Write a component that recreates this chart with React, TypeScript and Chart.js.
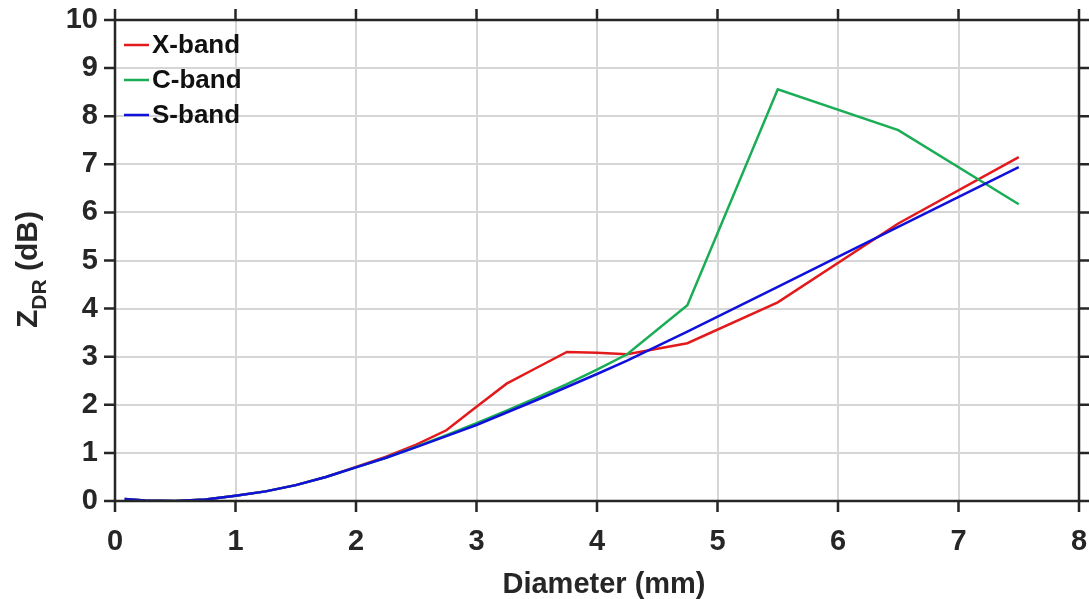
import React, { useEffect, useRef } from "react";
import { Chart, registerables } from "chart.js";

Chart.register(...registerables);

// Drop diameters (mm)
const diameters = [
  0.08, 0.25, 0.5, 0.75, 1.0, 1.25, 1.5, 1.75, 2.0, 2.25, 2.5, 2.75, 3.0,
  3.25, 3.5, 3.75, 4.0, 4.25, 4.75, 5.5, 6.5, 7.5,
];

// ZDR (dB) per radar band
const xBand = [
  0.04, 0.01, 0.0, 0.03, 0.11, 0.2, 0.33, 0.5, 0.71, 0.92, 1.17, 1.47, 1.96,
  2.44, 2.77, 3.1, 3.08, 3.05, 3.28, 4.13, 5.77, 7.15,
];
const cBand = [
  0.04, 0.01, 0.0, 0.03, 0.11, 0.2, 0.33, 0.5, 0.7, 0.9, 1.13, 1.37, 1.62,
  1.88, 2.15, 2.43, 2.73, 3.05, 4.07, 8.56, 7.71, 6.17,
];
const sBand = [
  0.04, 0.01, 0.0, 0.03, 0.11, 0.2, 0.33, 0.5, 0.7, 0.9, 1.12, 1.35, 1.58,
  1.84, 2.1, 2.37, 2.64, 2.92, 3.52, 4.45, 5.7, 6.94,
];

const seriesLabels = ["X-band", "C-band", "S-band"];
const seriesColors = ["#e31a1c", "#19ad55", "#1010dc"];

const xTicks = [0, 1, 2, 3, 4, 5, 6, 7, 8];
const yTicks = [0, 1, 2, 3, 4, 5, 6, 7, 8, 9, 10];

const FONT = "'Liberation Sans', Arial, Helvetica, sans-serif";
const INK = "#262626";

const toPoints = (ys: number[]) => diameters.map((d, i) => ({ x: d, y: ys[i] }));

const clearPadding = (s: any) => {
  s.paddingTop = 0;
  s.paddingBottom = 0;
  s.paddingLeft = 0;
  s.paddingRight = 0;
};

// Box frame with outward ticks on all four sides, axis titles and an inset legend
const decorPlugin = {
  id: "decor",
  afterDraw(chart: any) {
    const { ctx, chartArea: a, scales } = chart;
    const xs = scales.x;
    const ys = scales.y;
    const tick = 11;
    ctx.save();
    ctx.strokeStyle = INK;
    ctx.lineWidth = 2.5;
    ctx.lineCap = "butt";
    ctx.strokeRect(a.left, a.top, a.right - a.left, a.bottom - a.top);
    ctx.beginPath();
    xTicks.forEach((v) => {
      const px = xs.getPixelForValue(v);
      ctx.moveTo(px, a.bottom);
      ctx.lineTo(px, a.bottom + tick);
      ctx.moveTo(px, a.top);
      ctx.lineTo(px, a.top - tick);
    });
    yTicks.forEach((v) => {
      const py = ys.getPixelForValue(v);
      ctx.moveTo(a.left, py);
      ctx.lineTo(a.left - tick, py);
      ctx.moveTo(a.right, py);
      ctx.lineTo(a.right + tick, py);
    });
    ctx.stroke();

    // x-axis title
    ctx.fillStyle = INK;
    ctx.font = `bold 29px ${FONT}`;
    ctx.textAlign = "center";
    ctx.textBaseline = "alphabetic";
    ctx.fillText("Diameter (mm)", (a.left + a.right) / 2 + 7, 593);

    // y-axis title: Z with DR subscript, rotated
    ctx.save();
    ctx.translate(37, (a.top + a.bottom) / 2 + 9);
    ctx.rotate(-Math.PI / 2);
    ctx.textAlign = "left";
    const big = `bold 30px ${FONT}`;
    const small = `bold 21px ${FONT}`;
    ctx.font = big;
    const wZ = ctx.measureText("Z").width;
    const wRest = ctx.measureText(" (dB)").width;
    ctx.font = small;
    const wSub = ctx.measureText("DR").width;
    let x0 = -(wZ + wSub + wRest) / 2;
    ctx.font = big;
    ctx.fillText("Z", x0, 0);
    x0 += wZ;
    ctx.font = small;
    ctx.fillText("DR", x0, 9);
    x0 += wSub;
    ctx.font = big;
    ctx.fillText(" (dB)", x0, 0);
    ctx.restore();

    // legend
    ctx.font = `bold 26px ${FONT}`;
    ctx.textAlign = "left";
    ctx.textBaseline = "middle";
    chart.data.datasets.forEach((ds: any, i: number) => {
      const y = a.top + 25 + i * 35;
      ctx.strokeStyle = ds.borderColor;
      ctx.lineWidth = 2.5;
      ctx.beginPath();
      ctx.moveTo(a.left + 9, y);
      ctx.lineTo(a.left + 34, y);
      ctx.stroke();
      ctx.fillStyle = "#111";
      ctx.fillText(ds.label, a.left + 37, y + 1);
    });
    ctx.restore();
  },
};

export default function App() {
  const ref = useRef<HTMLCanvasElement | null>(null);

  useEffect(() => {
    document.body.style.margin = "0";
    const canvas = ref.current;
    if (!canvas) return;
    const bandValues = [xBand, cBand, sBand];
    const chart = new Chart(canvas, {
      type: "line",
      data: {
        datasets: bandValues.map((vals, i) => ({
          label: seriesLabels[i],
          data: toPoints(vals),
          borderColor: seriesColors[i],
          backgroundColor: seriesColors[i],
          borderWidth: 2.5,
          pointRadius: 0,
          tension: 0,
          fill: false,
          order: 3 - i,
        })),
      },
      options: {
        animation: false,
        responsive: false,
        maintainAspectRatio: false,
        devicePixelRatio: 1,
        layout: { padding: { top: 20, right: 10, left: 0, bottom: 0 } },
        plugins: {
          legend: { display: false },
          tooltip: { enabled: false },
          title: { display: false },
        },
        scales: {
          x: {
            type: "linear",
            min: 0,
            max: 8,
            afterBuildTicks: (s: any) => {
              s.ticks = xTicks.map((v) => ({ value: v }));
            },
            afterFit: (s: any) => {
              s.height = 98;
              clearPadding(s);
            },
            ticks: {
              color: INK,
              font: { family: FONT, size: 29, weight: "bold" },
              padding: 24,
              maxRotation: 0,
              autoSkip: false,
            },
            grid: { color: "#d6d6d6", lineWidth: 2, drawTicks: false },
            border: { display: false },
          },
          y: {
            type: "linear",
            min: 0,
            max: 10,
            afterBuildTicks: (s: any) => {
              s.ticks = yTicks.map((v) => ({ value: v }));
            },
            afterFit: (s: any) => {
              s.width = 115;
              clearPadding(s);
            },
            ticks: {
              color: INK,
              font: { family: FONT, size: 29, weight: "bold" },
              padding: 17,
              autoSkip: false,
            },
            grid: { color: "#d6d6d6", lineWidth: 2, drawTicks: false },
            border: { display: false },
          },
        },
      },
      plugins: [decorPlugin],
    });
    return () => chart.destroy();
  }, []);

  return (
    <div style={{ position: "absolute", left: 0, top: 0, width: 1089, height: 599, background: "#fff" }}>
      <canvas ref={ref} width={1089} height={599} />
    </div>
  );
}
